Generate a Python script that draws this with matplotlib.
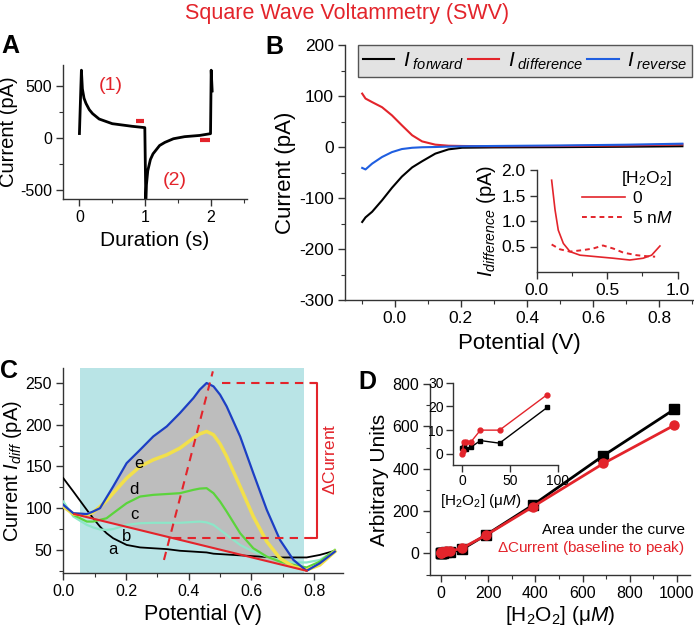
import matplotlib.pyplot as plt
from matplotlib.ticker import MultipleLocator
import numpy as np

plt.rcParams['font.family'] = ['Liberation Sans', 'DejaVu Sans']
plt.rcParams['mathtext.fontset'] = 'custom'
plt.rcParams['mathtext.rm'] = 'Liberation Sans'
plt.rcParams['mathtext.it'] = 'Liberation Sans:italic'
plt.rcParams['mathtext.bf'] = 'Liberation Sans:bold'
plt.rcParams['axes.unicode_minus'] = False

RED = '#e3242b'

# ---- A: raw square wave response
a_t = [0.0, 0.02, 0.03, 0.045, 0.07, 0.1, 0.15, 0.2, 0.3, 0.5, 0.8, 0.995,
       1.01, 1.02, 1.04, 1.08, 1.12, 1.22, 1.3, 1.43, 1.6, 1.83, 1.995, 2.005, 2.02]
a_i = [40, 450, 650, 470, 380, 330, 270, 232, 180, 135, 110, 97,
       -590, -450, -318, -210, -155, -75, -45, -10, 10, 22, 39, 650, 450]
a_mark_t0 = [0.86, 1.84]
a_mark_t1 = [0.99, 1.98]
a_mark_i = [160, -19]

# ---- B: forward / difference / reverse currents
b_v = [-0.098, -0.088, -0.068, -0.038, -0.008, 0.022, 0.053, 0.083, 0.123, 0.163, 0.204, 0.3, 0.5, 0.7, 0.87]
b_fwd = [-147, -138, -127, -104.5, -80, -58, -40, -28, -13, -4.6, -1.4, -0.8, -0.3, 0.5, 1.5]
b_diff = [104.7, 95, 88, 78, 62, 42.5, 23, 11, 4.6, 2.5, 2, 1.4, 2, 3, 5]
b_rev = [-41, -44, -32.6, -19.6, -10, -4, -1.5, -0.5, 0, 0.8, 1.4, 2, 3, 4.5, 6.5]

# inset B: I_difference at 0 and 5 nM H2O2
bi_v0 = [0.106, 0.13, 0.153, 0.189, 0.236, 0.307, 0.425, 0.543, 0.66, 0.755, 0.815, 0.874]
bi_i0 = [1.80, 1.22, 0.82, 0.56, 0.40, 0.33, 0.30, 0.27, 0.235, 0.27, 0.33, 0.51]
bi_v5 = [0.106, 0.165, 0.236, 0.33, 0.40, 0.47, 0.543, 0.614, 0.708, 0.78, 0.84]
bi_i5 = [0.54, 0.445, 0.40, 0.43, 0.46, 0.52, 0.46, 0.38, 0.33, 0.31, 0.30]

# ---- C: difference currents a-e
c_v = [0.0, 0.032, 0.075, 0.095, 0.117, 0.138, 0.159, 0.202, 0.245, 0.287, 0.33, 0.372,
       0.415, 0.435, 0.457, 0.479, 0.5, 0.521, 0.564, 0.606, 0.649, 0.691, 0.734, 0.776,
       0.818, 0.866]
c_a = [136, 120, 98, 88, 78, 70, 64, 56, 53, 52, 51, 49, 48, 47.5, 47, 45.5, 45, 44.5,
       43.5, 42.5, 41.5, 41, 41, 41, 44, 49]
c_b = [108, 90, 80, 77, 74.5, 74, 75, 80, 82, 82.5, 82.5, 82.5, 83.5, 84, 83, 80, 74, 68,
       56, 48, 42, 38, 35, 35, 38, 49]
c_c = [104, 92, 84, 84, 86, 88, 94, 106, 114, 116, 117, 118, 122, 123.5, 124, 118, 108,
       96, 70, 52, 42, 36, 32, 29, 36, 50]
c_d = [102, 93, 92, 95, 102, 109, 118, 136, 150, 158, 164, 172, 184, 189, 192, 188, 177,
       162, 126, 90, 60, 40, 30, 26, 32, 48]
c_e = [104, 94, 93, 96, 100, 113, 126, 154, 170, 186, 198, 214, 232, 242, 250, 246, 236,
       222, 186, 142, 98, 62, 38, 25, 34, 48]
c_names = ['a', 'b', 'c', 'd', 'e']
c_label_v = [0.157, 0.202, 0.226, 0.226, 0.241]
c_label_i = [51, 66, 93, 123, 153]
c_base_v = [0.035, 0.776]
c_base_i = [93, 25]
c_window = [0.053, 0.768]
c_peak_line_v = [0.321, 0.477]
c_peak_line_i = [38, 264]
c_peak, c_floor = 250, 64.5

# ---- D: calibration
d_conc = [0, 0.5, 1.5, 4, 9, 19, 39, 89, 189, 389, 689, 989]
d_area = [2.4, 2.6, 3.2, 2.2, 2.8, 5.6, 4.5, 19.6, 86, 228, 462, 680]
d_delta = [0, 1.4, 5, 5, 5, 10, 10, 25, 85, 220, 425, 605]


def style(ax, xminor=None, yminor=None, size=11.5, pad=3):
    for s in ['top', 'right']:
        ax.spines[s].set_visible(False)
    for s in ['left', 'bottom']:
        ax.spines[s].set_color('#333333')
        ax.spines[s].set_linewidth(1)
    ax.tick_params(direction='out', length=5, width=1, labelsize=size, color='#333333', pad=pad)
    ax.tick_params(which='minor', direction='out', length=3, width=0.8, color='#333333')
    if xminor:
        ax.xaxis.set_minor_locator(MultipleLocator(xminor))
    if yminor:
        ax.yaxis.set_minor_locator(MultipleLocator(yminor))


fig = plt.figure(figsize=(6.94, 6.26), dpi=100)
W, H = 694, 626


def box(l, t, r, b):
    return [l / W, 1 - b / H, (r - l) / W, (b - t) / H]


fig.text(0.5, 1 - 13 / H, 'Square Wave Voltammetry (SWV)', color=RED, fontsize=15.5,
         ha='center', va='center')
for letter, px, py in [('A', 1, 46), ('B', 265, 47), ('C', 0, 371), ('D', 358, 382)]:
    fig.text(px / W, 1 - py / H, letter, fontsize=18, fontweight='bold', ha='left', va='center')

# A
ax = fig.add_axes(box(63, 65, 247, 199))
ax.plot(a_t, a_i, color='black', lw=2)
for t0, t1, i in zip(a_mark_t0, a_mark_t1, a_mark_i):
    ax.plot([t0, t1], [i, i], color=RED, lw=3, solid_capstyle='butt')
ax.text(0.47, 505, '(1)', color=RED, fontsize=14, ha='center', va='center')
ax.text(1.45, -412, '(2)', color=RED, fontsize=14, ha='center', va='center')
ax.set_xlim(-0.25, 2.55)
ax.set_ylim(-590, 700)
ax.set_xticks([0, 1, 2])
ax.set_yticks([-500, 0, 500])
style(ax, 0.5, 250)
ax.set_xlabel('Duration (s)', fontsize=15, labelpad=4)
ax.set_ylabel('Current (pA)', fontsize=14.5, labelpad=1)

# B
ax = fig.add_axes(box(345, 45, 694, 300))
ax.plot(b_v, b_fwd, color='black', lw=1.5, label=r'$I_{\ forward}$')
ax.plot(b_v, b_diff, color=RED, lw=1.5, label=r'$I_{\ difference}$')
ax.plot(b_v, b_rev, color='#1f5ee0', lw=1.5, label=r'$I_{\ reverse}$')
ax.set_xlim(-0.15, 0.905)
ax.set_ylim(-300, 200)
ax.set_xticks([0, 0.2, 0.4, 0.6, 0.8])
ax.set_yticks([-300, -200, -100, 0, 100, 200])
style(ax, 0.1, 50, size=12.5)
ax.set_xlabel('Potential (V)', fontsize=16, labelpad=5)
ax.set_ylabel('Current (pA)', fontsize=16, labelpad=2)
leg = ax.legend(loc='upper left', bbox_to_anchor=(0.037, 0.89, 0.958, 0.11), mode='expand',
                ncol=3, borderaxespad=0, fontsize=15, handlelength=1.5, handletextpad=0.4,
                columnspacing=0.3, fancybox=False, framealpha=1, facecolor='#e3e3e3',
                edgecolor='#555555', borderpad=0.25)
leg.get_frame().set_linewidth(1)

axi = fig.add_axes(box(536.7, 170, 677.7, 272))
axi.plot(bi_v0, bi_i0, color=RED, lw=1.2, label='0')
axi.plot(bi_v5, bi_i5, color=RED, lw=1.4, ls=(0, (2.5, 2)), label=r'5 n$M$')
axi.set_xlim(0, 1.0)
axi.set_ylim(0, 2.0)
axi.set_xticks([0, 0.5, 1.0])
axi.set_yticks([0.5, 1.0, 1.5, 2.0])
style(axi, 0.25, None, size=12.5)
axi.set_ylabel(r'$I_{difference}$ (pA)', fontsize=14.5, labelpad=2)
axi.legend(loc='upper left', bbox_to_anchor=(0.27, 1.08), frameon=False, fontsize=12.5,
           title=r'[H$_2$O$_2$]', title_fontsize=12.5, alignment='right',
           handlelength=2.5, handletextpad=0.4, labelspacing=0.2, borderaxespad=0)

# C
ax = fig.add_axes(box(63.3, 368, 343.3, 573.3))
ax.axvspan(c_window[0], c_window[1], color='#b9e4e6', lw=0, zorder=0)
sel = [(v, i) for v, i in zip(c_v, c_e) if c_base_v[0] <= v <= c_base_v[1] + 0.001]
poly_v = [c_base_v[0]] + [p[0] for p in sel] + [c_base_v[1]]
poly_i = [c_base_i[0]] + [p[1] for p in sel] + [c_base_i[1]]
ax.fill(poly_v, poly_i, color='#bdbdbd', lw=0, zorder=1)
ax.plot(c_v, c_a, color='black', lw=1.3, zorder=3)
ax.plot(c_v, c_b, color='#8de6c8', lw=1.6, zorder=3)
ax.plot(c_v, c_c, color='#5bd43c', lw=1.6, zorder=3)
ax.plot(c_v, c_d, color='#f2e04a', lw=2.5, zorder=3)
ax.plot(c_v, c_e, color='#1c3fc4', lw=1.6, zorder=3)
ax.plot(c_base_v, c_base_i, color=RED, lw=1.5, zorder=4)
for n, v, i in zip(c_names, c_label_v, c_label_i):
    ax.text(v, i, n, fontsize=12, ha='center', va='center', zorder=5)
ax.plot(c_peak_line_v, c_peak_line_i, color=RED, lw=1.5, dashes=(4, 3), zorder=5, clip_on=False)
ax.plot([0.505, 0.81], [c_peak, c_peak], color=RED, lw=1.5, dashes=(4, 3), zorder=5)
ax.plot([0.351, 0.81], [c_floor, c_floor], color=RED, lw=1.5, dashes=(4, 3), zorder=5)
ax.plot([0.79, 0.81, 0.81, 0.79], [c_peak, c_peak, c_floor, c_floor], color=RED, lw=1.5,
        zorder=5, clip_on=False)
ax.text(0.851, 158, r'$\Delta$Current', color=RED, fontsize=12.5, rotation=90,
        ha='center', va='center', clip_on=False)
ax.set_xlim(0, 0.893)
ax.set_ylim(22, 268)
ax.set_xticks([0, 0.2, 0.4, 0.6, 0.8])
ax.set_yticks([50, 100, 150, 200, 250])
style(ax, 0.1, 25, size=11.5)
ax.set_xlabel('Potential (V)', fontsize=15.5, labelpad=3)
ax.set_ylabel(r'Current $I_{diff}$ (pA)', fontsize=14.5, labelpad=1)

# D
ax = fig.add_axes(box(430, 384, 690, 575))
ax.plot(d_conc, d_area, color='black', lw=2, marker='s', ms=6.5, zorder=3)
ax.plot(d_conc, d_delta, color=RED, lw=2, marker='o', ms=6.5, zorder=4)
ax.text(1035, 110, 'Area under the curve', fontsize=11, ha='right', va='center')
ax.text(1035, 24, r'$\Delta$Current (baseline to peak)', color=RED, fontsize=11,
        ha='right', va='center')
ax.set_xlim(-47, 1056)
ax.set_ylim(-102, 800)
ax.set_xticks([0, 200, 400, 600, 800, 1000])
ax.set_yticks([0, 200, 400, 600, 800])
style(ax, 100, 100, size=11.5)
ax.set_xlabel(r'[H$_2$O$_2$] ($\mathrm{\mu}M$)', fontsize=15, labelpad=2)
ax.set_ylabel('Arbitrary Units', fontsize=15, labelpad=2)

axi = fig.add_axes(box(452.7, 382.7, 558.3, 465))
axi.plot(d_conc[:8], d_area[:8], color='black', lw=1, marker='s', ms=3.5)
axi.plot(d_conc[:8], d_delta[:8], color=RED, lw=1, marker='o', ms=3.5)
axi.set_xlim(-10, 100.5)
axi.set_ylim(-4.7, 30)
axi.set_xticks([0, 50, 100])
axi.set_yticks([0, 10, 20, 30])
style(axi, None, None, size=10, pad=1.5)
axi.text(-0.12, -0.44, r'[H$_2$O$_2$] ($\mathrm{\mu}M$)', fontsize=11, ha='left', va='center',
         transform=axi.transAxes)

fig.savefig('out.png', dpi=100)
